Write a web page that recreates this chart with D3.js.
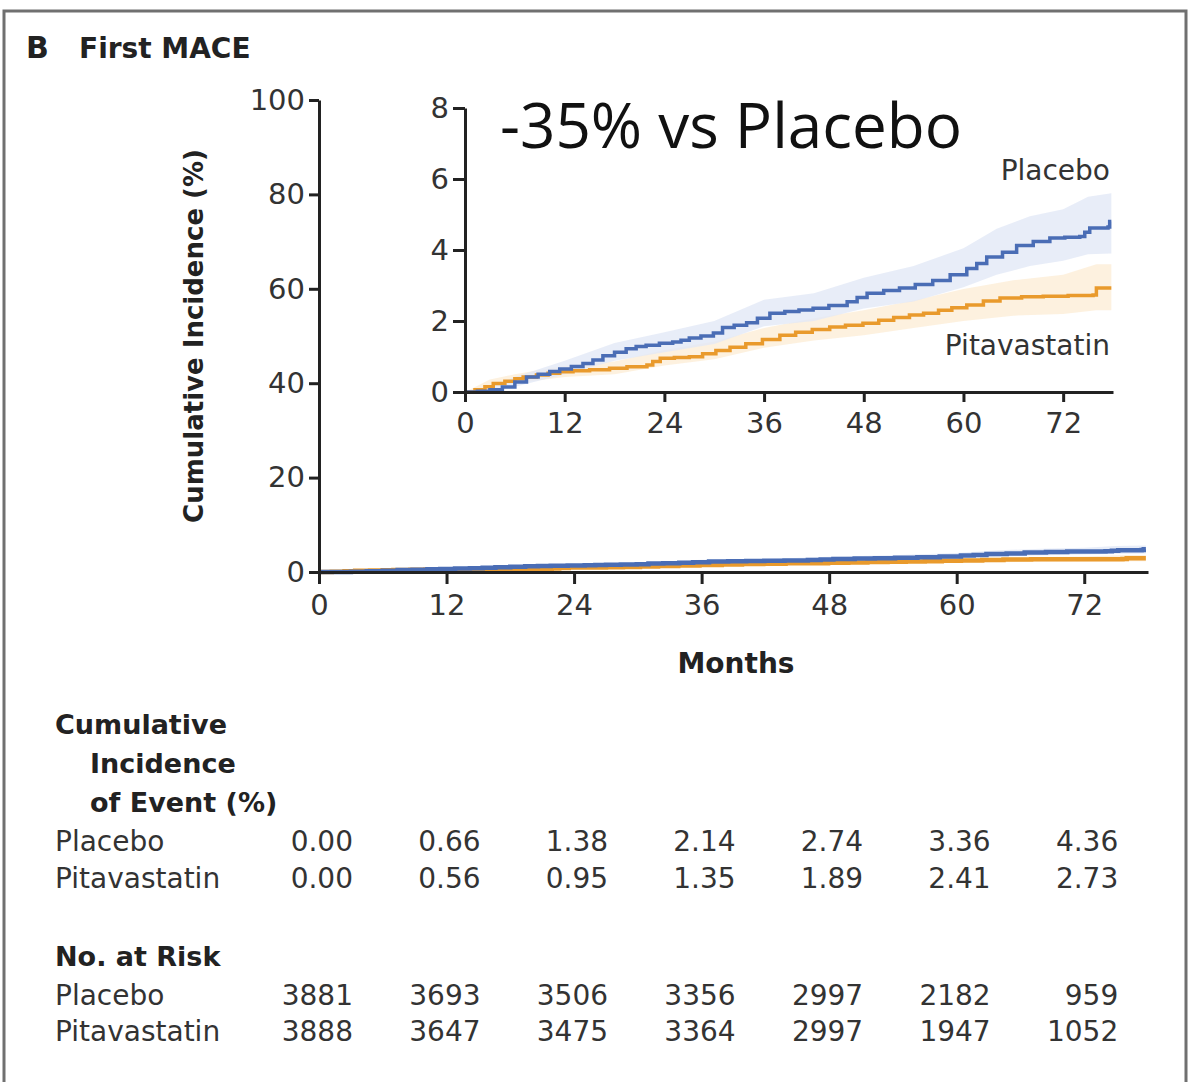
<!doctype html>
<html>
  <head>
    <script src="https://cdnjs.cloudflare.com/ajax/libs/d3/7.8.5/d3.min.js"></script>
    <style>
      body { margin: 0; background: #fff; }
      svg { font-family: "DejaVu Sans", sans-serif; }
      .tick text { fill: #333; }
    </style>
  </head>
  <body>
    <svg width="1191" height="1082"></svg>
    <script>
        // step curves: [month, cumulative incidence %]
        var placebo = [
            [0, 0], [1.5, 0.02], [3, 0.06], [4.5, 0.14], [6, 0.28], [7.4, 0.42], [8.8, 0.5],
            [10.2, 0.58], [11.4, 0.65], [12.8, 0.72], [14.2, 0.8], [15.4, 0.9], [16.6, 1.02],
            [18, 1.12], [19.4, 1.22], [20.6, 1.28], [21.8, 1.32], [23.4, 1.37], [25, 1.41],
            [26, 1.46], [27, 1.52], [28.4, 1.58], [29.9, 1.66], [31, 1.82], [32.4, 1.88],
            [33.9, 1.95], [35.2, 2.08], [36.7, 2.22], [38.5, 2.27], [40.2, 2.31], [41.9, 2.36],
            [43.8, 2.44], [46, 2.54], [47.2, 2.66], [48.4, 2.78], [50.4, 2.86], [52.3, 2.93],
            [54.2, 3.03], [56.3, 3.14], [58.4, 3.3], [60.4, 3.48], [61.6, 3.62], [62.8, 3.8],
            [64.7, 3.94], [66.4, 4.13], [68.4, 4.24], [70.4, 4.34], [72.2, 4.36], [74, 4.38],
            [74.6, 4.5], [75.2, 4.62], [77.4, 4.65], [77.6, 4.8], [77.8, 4.8]
        ];
        var pitavastatin = [
            [0, 0], [1.2, 0.06], [2.4, 0.15], [3.4, 0.24], [4.8, 0.3], [6, 0.37], [7, 0.42],
            [8.6, 0.48], [10, 0.53], [11.4, 0.57], [13, 0.6], [15, 0.63], [17.4, 0.67],
            [19.5, 0.71], [21.9, 0.76], [22.6, 0.86], [23.5, 0.95], [25.2, 0.97], [27, 0.99],
            [28.6, 1.08], [30.2, 1.17], [31.9, 1.26], [33.8, 1.36], [35.8, 1.48], [37.9, 1.6],
            [39.8, 1.68], [41.8, 1.76], [43.9, 1.83], [45.8, 1.88], [47.9, 1.94], [49.8, 2.02],
            [51.6, 2.1], [53.5, 2.17], [55.2, 2.22], [57, 2.3], [58.6, 2.37], [60.4, 2.45],
            [62.4, 2.56], [64.4, 2.65], [67, 2.68], [69.6, 2.7], [72.6, 2.72], [75.6, 2.73],
            [76, 2.93], [77.8, 2.93]
        ];
        // 95% bands: [month, lower, upper]
        var placeboBand = [
            [0, 0, 0], [3, 0, 0.15], [6, 0.15, 0.42], [12, 0.5, 0.88], [18, 0.88, 1.38],
            [24, 1.12, 1.68], [30, 1.35, 2.0], [36, 1.85, 2.6], [42, 2.0, 2.78], [48, 2.35, 3.22],
            [54, 2.55, 3.55], [60, 2.95, 4.05], [64, 3.3, 4.6], [68, 3.55, 4.95], [72, 3.7, 5.15],
            [75, 3.88, 5.5], [77.8, 3.9, 5.6]
        ];
        var pitavastatinBand = [
            [0, 0, 0], [3, 0.15, 0.35], [6, 0.25, 0.5], [12, 0.42, 0.74], [18, 0.5, 0.86],
            [24, 0.75, 1.18], [30, 0.92, 1.42], [36, 1.25, 1.8], [42, 1.45, 2.08], [48, 1.6, 2.3],
            [54, 1.8, 2.58], [60, 2.0, 2.9], [66, 2.15, 3.15], [72, 2.2, 3.3], [76, 2.3, 3.6],
            [77.8, 2.3, 3.6]
        ];

        var monthTicks = [0, 12, 24, 36, 48, 60, 72];
        var mainYTicks = [0, 20, 40, 60, 80, 100];
        var insetYTicks = [0, 2, 4, 6, 8];

        var groups = ["Placebo", "Pitavastatin"];
        var incidence = [
            ["0.00", "0.66", "1.38", "2.14", "2.74", "3.36", "4.36"],
            ["0.00", "0.56", "0.95", "1.35", "1.89", "2.41", "2.73"]
        ];
        var atRisk = [
            [3881, 3693, 3506, 3356, 2997, 2182, 959],
            [3888, 3647, 3475, 3364, 2997, 1947, 1052]
        ];

        var blue = "#4a6db5", orange = "#e99a2c";
        var blueBand = "#e2e8f6", orangeBand = "#fdefdc";

        var svg = d3.select("svg");

        // frame
        svg.append("path")
            .attr("d", "M4,1082 V11 H1186 V1082")
            .style("fill", "none").style("stroke", "#707070").style("stroke-width", 3);

        svg.append("text").attr("x", 26).attr("y", 58)
            .style("font-size", "30px").style("font-weight", "bold").style("fill", "#222").text("B");
        svg.append("text").attr("x", 79).attr("y", 58)
            .style("font-size", "28px").style("font-weight", "bold").style("fill", "#222").text("First MACE");

        function drawPlot(g, x, y, lineW) {
            var area = d3.area()
                .x(d => x(d[0])).y0(d => y(d[1])).y1(d => y(d[2]));
            var line = d3.line().curve(d3.curveStepAfter)
                .x(d => x(d[0])).y(d => y(d[1]));
            g.append("path").attr("d", area(pitavastatinBand)).style("fill", orangeBand).style("opacity", 0.9);
            g.append("path").attr("d", area(placeboBand)).style("fill", blueBand).style("opacity", 0.8);
            g.append("path").attr("d", line(pitavastatin))
                .style("fill", "none").style("stroke", orange).style("stroke-width", lineW);
            g.append("path").attr("d", line(placebo))
                .style("fill", "none").style("stroke", blue).style("stroke-width", lineW);
        }

        function styleAxis(sel, size) {
            sel.select(".domain").style("stroke", "#222").style("stroke-width", 3);
            sel.selectAll(".tick line").style("stroke", "#222").style("stroke-width", 3);
            sel.selectAll(".tick text").style("font-size", size + "px").style("font-family", "DejaVu Sans");
        }

        // main chart
        var xMain = d3.scaleLinear().domain([0, 78]).range([319, 1148]);
        var yMain = d3.scaleLinear().domain([0, 100]).range([572, 100]);
        drawPlot(svg.append("g"), xMain, yMain, 4.5);

        var gx = svg.append("g").attr("transform", "translate(0,572)")
            .call(d3.axisBottom(xMain).tickValues(monthTicks).tickSize(12).tickSizeOuter(0).tickPadding(10));
        styleAxis(gx, 29);
        var gy = svg.append("g").attr("transform", "translate(319,0)")
            .call(d3.axisLeft(yMain).tickValues(mainYTicks).tickSize(10).tickSizeOuter(0).tickPadding(4));
        styleAxis(gy, 29);

        svg.append("text").attr("transform", "translate(203,336) rotate(-90)")
            .attr("text-anchor", "middle").style("font-size", "26px").style("font-weight", "bold")
            .style("fill", "#222").text("Cumulative Incidence (%)");
        svg.append("text").attr("x", 736).attr("y", 673).attr("text-anchor", "middle")
            .style("font-size", "28px").style("font-weight", "bold").style("fill", "#222").text("Months");

        // inset
        var xIn = d3.scaleLinear().domain([0, 78]).range([465, 1113]);
        var yIn = d3.scaleLinear().domain([0, 8]).range([392, 108]);
        drawPlot(svg.append("g"), xIn, yIn, 3.5);

        var ix = svg.append("g").attr("transform", "translate(0,392)")
            .call(d3.axisBottom(xIn).tickValues(monthTicks).tickSize(10).tickSizeOuter(0).tickPadding(10));
        styleAxis(ix, 29);
        var iy = svg.append("g").attr("transform", "translate(465,0)")
            .call(d3.axisLeft(yIn).tickValues(insetYTicks).tickSize(12).tickSizeOuter(0).tickPadding(4));
        styleAxis(iy, 29);

        svg.append("text").attr("x", 500).attr("y", 148)
            .style("font-family", "Open Sans").style("font-size", "62px").style("fill", "#111")
            .text("-35% vs Placebo");
        svg.append("text").attr("x", 1110).attr("y", 180).attr("text-anchor", "end")
            .style("font-size", "28px").style("fill", "#333").text("Placebo");
        svg.append("text").attr("x", 1110).attr("y", 355).attr("text-anchor", "end")
            .style("font-size", "28px").style("fill", "#333").text("Pitavastatin");

        // tables below
        var bold = [["Cumulative", 55, 734], ["Incidence", 90, 773], ["of Event (%)", 90, 812], ["No. at Risk", 55, 966]];
        bold.forEach(b => svg.append("text").attr("x", b[1]).attr("y", b[2])
            .style("font-size", "27px").style("font-weight", "bold").style("fill", "#222").text(b[0]));

        function tableRows(rows, yPos) {
            rows.forEach((row, i) => {
                svg.append("text").attr("x", 55).attr("y", yPos[i])
                    .style("font-size", "28px").style("fill", "#333").text(groups[i]);
                svg.selectAll(null).data(row).enter().append("text")
                    .attr("x", (d, j) => xMain(monthTicks[j]) + 34)
                    .attr("y", yPos[i]).attr("text-anchor", "end")
                    .style("font-size", "28px").style("fill", "#333")
                    .text(d => d);
            });
        }
        tableRows(incidence, [851, 888]);
        tableRows(atRisk, [1005, 1041]);
    </script>
  </body>
</html>
